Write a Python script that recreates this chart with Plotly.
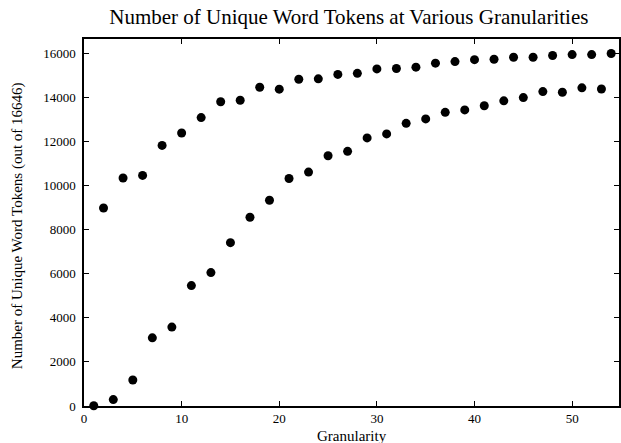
import plotly.graph_objects as go

x_even = [2, 4, 6, 8, 10, 12, 14, 16, 18, 20, 22, 24, 26, 28, 30, 32, 34, 36, 38, 40, 42, 44, 46, 48, 50, 52, 54]
y_even = [8980, 10340, 10460, 11820, 12380, 13080, 13800, 13870, 14460, 14370, 14820, 14840, 15040, 15090,
          15290, 15310, 15370, 15550, 15620, 15710, 15730, 15820, 15820, 15900, 15940, 15940, 15990]
x_odd = [1, 3, 5, 7, 9, 11, 13, 15, 17, 19, 21, 23, 25, 27, 29, 31, 33, 35, 37, 39, 41, 43, 45, 47, 49, 51, 53]
y_odd = [10, 290, 1180, 3090, 3580, 5460, 6050, 7410, 8560, 9330, 10320, 10610, 11350, 11550,
         12160, 12340, 12820, 13020, 13320, 13430, 13620, 13840, 13990, 14260, 14230, 14430, 14380]

x_ticks = [0, 10, 20, 30, 40, 50]
y_ticks = [0, 2000, 4000, 6000, 8000, 10000, 12000, 14000, 16000]

serif = "Liberation Serif, Times New Roman, serif"

fig = go.Figure()
for xs, ys in [(x_even, y_even), (x_odd, y_odd)]:
    fig.add_trace(go.Scatter(x=xs, y=ys, mode="markers",
                             marker=dict(color="black", size=9, line=dict(width=0)),
                             showlegend=False, cliponaxis=False))

axis_common = dict(showgrid=False, zeroline=False, showline=True, linecolor="black", linewidth=1.5,
                   mirror="ticks", ticks="inside", ticklen=5, tickwidth=1, tickcolor="black",
                   automargin=False,
                   tickfont=dict(family=serif, size=13, color="black"))

fig.update_xaxes(range=[0, 54.8], tickvals=x_ticks, ticktext=[str(v) for v in x_ticks], **axis_common)
fig.update_yaxes(range=[0, 16646], tickvals=y_ticks, ticktext=[str(v) for v in y_ticks],
                 ticklabelstandoff=4, **axis_common)

fig.add_annotation(text="Granularity", xref="paper", yref="paper", x=0.5, y=0,
                   xanchor="center", yanchor="middle", yshift=-30, showarrow=False,
                   font=dict(family=serif, size=15, color="black"))
fig.add_annotation(text="Number of Unique Word Tokens (out of 16646)", xref="paper", yref="paper",
                   x=0, y=0.49, xanchor="center", yanchor="middle", xshift=-67, textangle=-90,
                   showarrow=False, font=dict(family=serif, size=15, color="black"))

fig.update_layout(
    width=621, height=443,
    margin=dict(l=84, r=2, t=39, b=37),
    paper_bgcolor="white", plot_bgcolor="white",
    title=dict(text="Number of Unique Word Tokens at Various Granularities",
               font=dict(family=serif, size=21, color="black"),
               xref="paper", x=0.495, xanchor="center", y=0.962, yanchor="middle"),
)

fig.write_html("out.html", config={"displayModeBar": False},
               post_script="document.body.style.margin='0';document.body.style.padding='0';")
